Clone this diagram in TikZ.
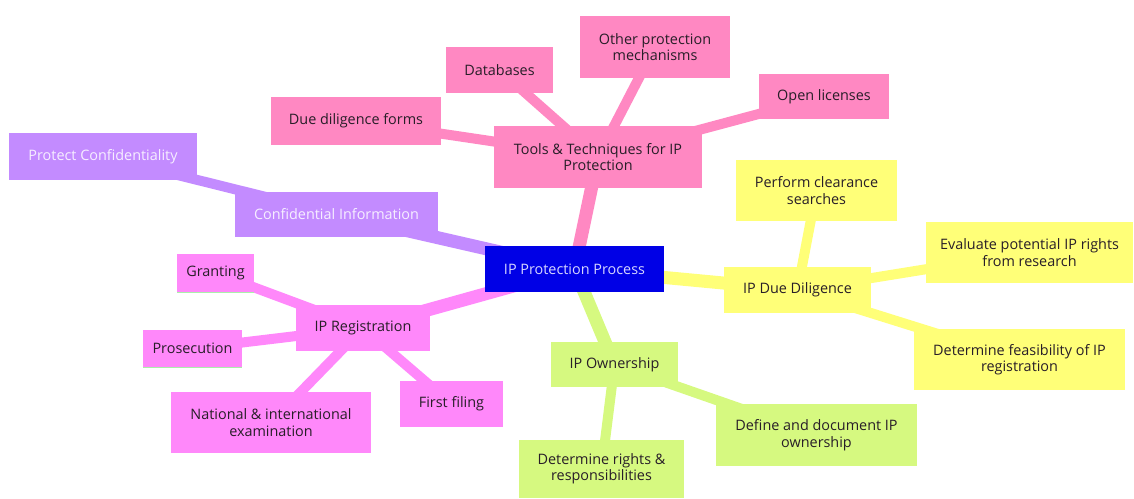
\documentclass[tikz,border=0pt]{standalone}
\usepackage{fontspec}
\setmainfont{Open Sans}
\usetikzlibrary{backgrounds}

\definecolor{rootblue}{RGB}{0,0,230}
\definecolor{roottext}{RGB}{214,214,255}
\definecolor{lilac}{RGB}{195,139,255}
\definecolor{lilactext}{RGB}{246,238,255}
\definecolor{rose}{RGB}{255,136,194}
\definecolor{lemon}{RGB}{255,255,120}
\definecolor{lime}{RGB}{214,249,128}
\definecolor{orchid}{RGB}{255,136,250}
\definecolor{mint}{RGB}{170,240,170}
\definecolor{ink}{RGB}{40,30,40}

% box given by its pixel corners: name, x1, y1, x2, y2, style, text
\newcommand{\mmbox}[7]{%
  \node[#6, minimum width={(#4-#2)*1pt}, minimum height={(#5-#3)*1pt}]
    (#1) at ({(#2+#4)/2},{(#3+#5)/2}) {#7};}

\begin{document}
\begin{tikzpicture}[x=1pt,y=-1pt,
  mm/.style={rectangle, inner sep=0pt, align=center, text=ink,
             font=\fontsize{14.4}{16.5}\selectfont},
  rootbox/.style={mm, fill=rootblue, text=roottext},
  conbox/.style={mm, fill=lilac, text=lilactext},
  toolbox/.style={mm, fill=rose},
  dilbox/.style={mm, fill=lemon},
  ownbox/.style={mm, fill=lime},
  regbox/.style={mm, fill=orchid},
  trunk/.style={line width=13pt},
  twig/.style={line width=10pt}]
\useasboundingbox (0,0) rectangle (1134,498);

% root
\mmbox{root}{485}{246}{664}{292}{rootbox}{IP Protection Process}

% confidential information branch
\mmbox{conf}{235}{192}{438}{237}{conbox}{Confidential Information}
\mmbox{protect}{9}{133}{197}{180}{conbox}{Protect Confidentiality}

% tools branch
\mmbox{tools}{494}{126}{702}{188}{toolbox}{Tools \& Techniques for IP\\Protection}
\mmbox{ddforms}{271}{97}{441}{145}{toolbox}{Due diligence forms}
\mmbox{db}{446}{47}{553}{93}{toolbox}{Databases}
\mmbox{other}{580}{16}{730}{78}{toolbox}{Other protection\\mechanisms}
\mmbox{open}{759}{74}{889}{119}{toolbox}{Open licenses}

% due diligence branch
\mmbox{dil}{724}{267}{871}{313}{dilbox}{IP Due Diligence}
\mmbox{perform}{736}{160}{897}{221}{dilbox}{Perform clearance\\searches}
\mmbox{eval}{926}{222}{1133}{283}{dilbox}{Evaluate potential IP rights\\from research}
\mmbox{feas}{914}{329}{1125}{390}{dilbox}{Determine feasibility of IP\\registration}

% ownership branch
\mmbox{own}{551}{342}{678}{387}{ownbox}{IP Ownership}
\mmbox{define}{716}{404}{917}{466}{ownbox}{Define and document IP\\ownership}
\mmbox{rights}{519}{440}{684}{498}{ownbox}{Determine rights \&\\responsibilities}

% registration branch
\mmbox{reg}{296}{305}{430}{351}{regbox}{IP Registration}
\mmbox{grant}{177}{254}{254}{292}{regbox}{Granting}
\mmbox{pros}{143}{330}{242}{367}{regbox}{Prosecution}
\mmbox{nat}{171}{392}{371}{453}{regbox}{National \& international\\examination}
\mmbox{first}{400}{381}{503}{427}{regbox}{First filing}

% thin green rule under two leaves
\draw[mint, line width=1.2pt] (grant.south west) -- (grant.south east);
\draw[mint, line width=1.2pt] (pros.south west) -- (pros.south east);

\begin{scope}[on background layer]
  \draw[trunk, lilac]  (root.center) -- (conf.center);
  \draw[trunk, rose]   (root.center) -- (tools.center);
  \draw[trunk, lemon]  (root.center) -- (dil.center);
  \draw[trunk, lime]   (root.center) -- (own.center);
  \draw[trunk, orchid] (root.center) -- (reg.center);

  \draw[twig, lilac] (conf.center) -- (protect.center);

  \draw[twig, rose] (tools.center) -- (ddforms.center);
  \draw[twig, rose] (tools.center) -- (db.center);
  \draw[twig, rose] (tools.center) -- (other.center);
  \draw[twig, rose] (tools.center) -- (open.center);

  \draw[twig, lemon] (dil.center) -- (perform.center);
  \draw[twig, lemon] (dil.center) -- (eval.center);
  \draw[twig, lemon] (dil.center) -- (feas.center);

  \draw[twig, lime] (own.center) -- (define.center);
  \draw[twig, lime] (own.center) -- (rights.center);

  \draw[twig, orchid] (reg.center) -- (grant.center);
  \draw[twig, orchid] (reg.center) -- (pros.center);
  \draw[twig, orchid] (reg.center) -- (nat.center);
  \draw[twig, orchid] (reg.center) -- (first.center);
\end{scope}
\end{tikzpicture}
\end{document}
